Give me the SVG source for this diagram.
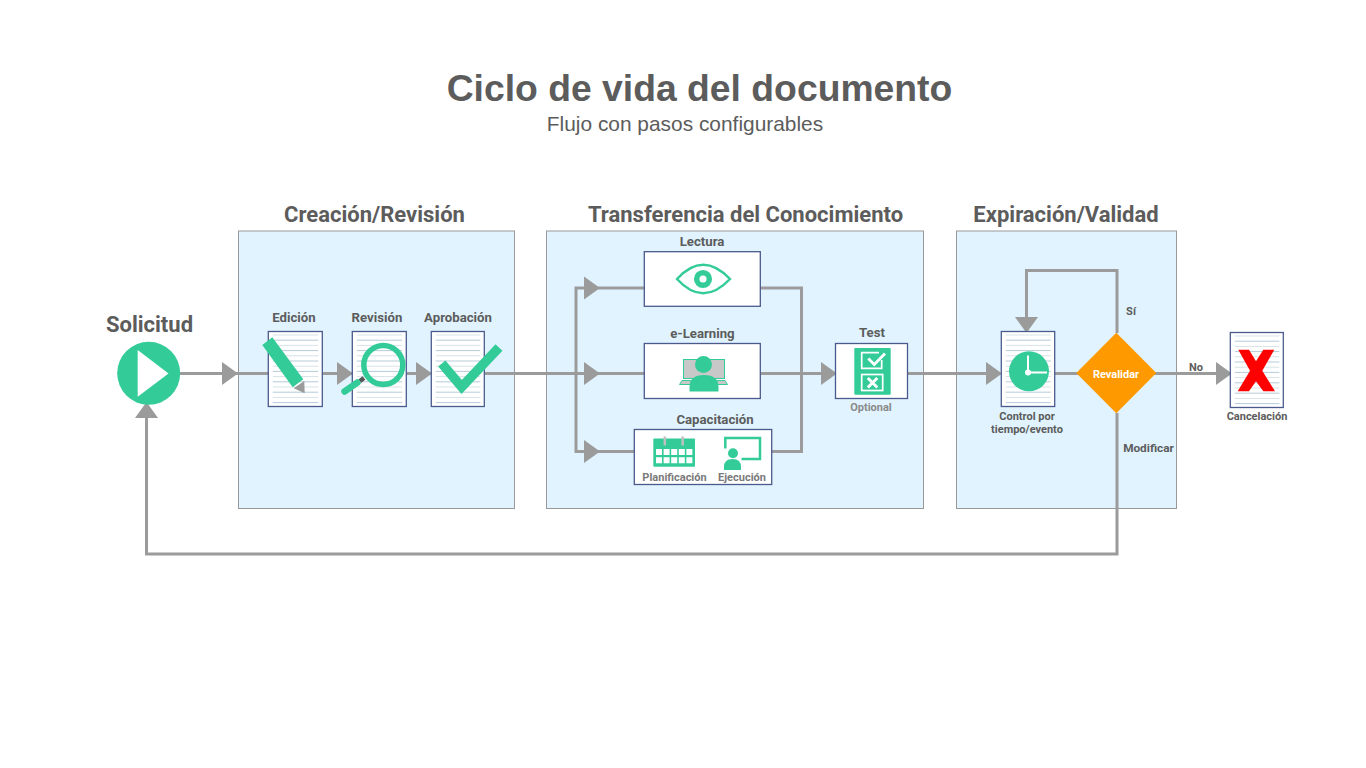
<svg xmlns="http://www.w3.org/2000/svg" width="1366" height="768" viewBox="0 0 1366 768">
<style>
.panel{fill:#e0f3fe;stroke:#999;stroke-width:1}
.box{fill:#fff;stroke:#4a5a8c;stroke-width:1.3}
.conn{fill:none;stroke:#9b9b9b;stroke-width:3}
.head{fill:#9b9b9b}
.g{fill:#33cc99}
.gs{fill:none;stroke:#33cc99}
.r{font-family:Roboto,"Liberation Sans",sans-serif;font-weight:700;fill:#5c5c5c;text-anchor:middle}
.h{font-size:22px}
.m{font-size:13.200px}
.s{font-size:11px}
.li{stroke:#d8e2e6;stroke-width:1}
.lb{stroke:#b4cad9;stroke-width:1}
</style>
<defs>
<symbol id="doc" viewBox="0 0 54 75" preserveAspectRatio="none" overflow="visible">
<rect class="box" x="0" y="0" width="54" height="75"/>
<g><path class="li" d="M4.500 3.500H50M4.500 13.900H50M4.500 24.300H50M4.500 34.700H50M4.500 45.100H50M4.500 55.500H50M4.500 65.900H50"/>
<path class="lb" d="M4.500 8.700H50M4.500 19.100H50M4.500 29.500H50M4.500 39.900H50M4.500 50.300H50M4.500 60.700H50M4.500 71.100H50"/></g>
</symbol>
<polygon id="ar" class="head" points="0,-11.500 16,0 0,11.500"/>
</defs>
<rect width="1366" height="768" fill="#fff"/>
<g id="title">
<text x="699.500" y="100.500" text-anchor="middle" font-family="'Liberation Sans',Arial,sans-serif" font-weight="700" font-size="37.300" fill="#5c5c5c">Ciclo de vida del documento</text>
<text x="685" y="131" text-anchor="middle" font-family="'Liberation Sans',Arial,sans-serif" font-size="20.900" fill="#5c5c5c">Flujo con pasos configurables</text>
</g>
<g id="panel-creacion"><rect class="panel" x="238.500" y="231" width="276" height="277.500"/><text class="r h" x="374.500" y="221.500">Creación/Revisión</text></g>
<g id="panel-transferencia"><rect class="panel" x="546.500" y="231" width="377" height="277.500"/><text class="r h" x="745.500" y="221.500">Transferencia del Conocimiento</text></g>
<g id="panel-expiracion"><rect class="panel" x="956.500" y="231" width="220" height="277.500"/><text class="r h" x="1066" y="221.500">Expiración/Validad</text></g>
<g id="connectors">
<path class="conn" d="M180 373.500H1000"/>
<path class="conn" d="M576 373.500V288H645M576 373.500V451.500H635M760 288H801.500V451.500H771M760 373.500H825"/>
<path class="conn" d="M1055 373.500H1220"/>
<path class="conn" d="M1117 333V270.500H1026.500V320"/>
<path class="conn" d="M1117 413V554H146.500V412"/>
<use href="#ar" x="222" y="373.500"/>
<use href="#ar" x="337" y="373.500"/>
<use href="#ar" x="416" y="373.500"/>
<use href="#ar" x="584" y="288"/>
<use href="#ar" x="584" y="373.500"/>
<use href="#ar" x="584" y="451.500"/>
<use href="#ar" x="821" y="373.500"/>
<use href="#ar" x="986" y="373.500"/>
<use href="#ar" x="1216" y="373.500"/>
<use href="#ar" transform="translate(1026.500 317) rotate(90)"/>
<use href="#ar" transform="translate(146.500 418) rotate(-90)"/>
<text class="r s" x="1131" y="315">Sí</text>
<text class="r s" x="1196" y="370.500">No</text>
<text class="r" style="font-size:11.800px" x="1148.500" y="452.300">Modificar</text>
</g>
<g id="solicitud"><text class="r h" x="149.500" y="331.500">Solicitud</text>
<circle class="g" cx="148.700" cy="373.300" r="31.500"/>
<polygon fill="#fff" points="137.700,350 168.500,373.500 137.700,396.700"/></g>
<g id="edicion"><text class="r m" x="294" y="322.300">Edición</text>
<use href="#doc" x="268.300" y="331.500" width="54" height="75"/>
<polygon class="g" points="262.300,345 272.300,337.300 303.300,379.300 292.700,387.300"/>
<polygon class="head" points="293.700,388.300 304.300,381 304.700,393.300"/></g>
<g id="revision"><text class="r m" x="377" y="322.300">Revisión</text>
<use href="#doc" x="352.300" y="331.500" width="54" height="75"/>
<circle class="gs" cx="383.300" cy="365" r="19.500" stroke-width="5.500"/>
<path class="gs" d="M344.500 391.500L357.500 382.500" stroke-width="6.500" stroke-linecap="round"/>
<path d="M360 381L364 378" stroke="#555" stroke-width="4.500"/></g>
<g id="aprobacion"><text class="r m" x="458" y="322.300">Aprobación</text>
<use href="#doc" x="431.300" y="331.500" width="53" height="75"/>
<polyline class="gs" points="441.800,363.500 461.700,387 499,347.500" stroke-width="9.500"/></g>
<g id="lectura"><text class="r m" x="702" y="246.300">Lectura</text>
<rect class="box" x="644.300" y="251.700" width="116" height="54.600"/>
<path class="gs" stroke-width="2.500" d="M677 279Q703 250.500 730 279Q703 307.500 677 279Z"/>
<circle class="gs" cx="703" cy="279" r="6.300" stroke-width="5.500"/></g>
<g id="elearning"><text class="r m" x="702.500" y="338.300">e-Learning</text>
<rect class="box" x="644.300" y="343.500" width="116" height="55"/>
<rect x="683.500" y="359.500" width="41" height="19" fill="#c8c8c8" stroke="#33cc99"/>
<polygon points="679.500,384.500 682,380.500 725,380.500 727.500,384.500" fill="#c8c8c8" stroke="#33cc99"/>
<circle class="g" cx="703.500" cy="364.500" r="8.500"/>
<path class="g" d="M689.500 391.500V387Q689.500 375 704 375Q718.500 375 718.500 387V391.500Z"/></g>
<g id="capacitacion"><text class="r m" x="715" y="424.300">Capacitación</text>
<rect class="box" x="634.300" y="429.500" width="137.400" height="55"/>
<rect class="g" x="653.300" y="438.500" width="41.700" height="28.300" rx="1"/>
<path d="M664.800 436.500V445.500M682.700 436.500V445.500" stroke="#c0c0c0" stroke-width="2.500" fill="none"/>
<path d="M656 452H692.500M656 460.200H692.500" stroke="#fff" stroke-width="6" stroke-dasharray="6 1.600" fill="none"/>
<text class="r s" x="674.500" y="481" style="fill:#7a7a7a">Planificación</text>
<path class="gs" stroke-width="2.500" d="M725.300 448.500V438H760V459H741.500"/>
<circle class="g" cx="733" cy="453.300" r="5"/>
<path class="g" d="M724 470V467Q724 459 732.500 459Q741 459 741 467V470Z"/>
<text class="r s" x="742" y="481" style="fill:#7a7a7a">Ejecución</text></g>
<g id="test"><text class="r m" x="872" y="337.300">Test</text>
<rect class="box" x="835.500" y="343.500" width="72" height="55"/>
<rect class="g" x="854.300" y="348" width="36.400" height="46.700" rx="1"/>
<path d="M881.700 360V368.300H861.700V352.700H879" fill="none" stroke="#fff" stroke-width="1.700"/>
<path d="M868.300 358.500L874.300 364.500L885 353.500" fill="none" stroke="#fff" stroke-width="2.800"/>
<rect x="861.700" y="374.500" width="21" height="16" fill="none" stroke="#fff" stroke-width="1.700"/>
<path d="M867.800 378L877.300 387.500M877.300 378L867.800 387.500" fill="none" stroke="#fff" stroke-width="3"/>
<text class="r s" x="871" y="411" style="fill:#8a8a8a">Optional</text></g>
<g id="control"><use href="#doc" x="1001.300" y="331.500" width="53.400" height="75"/>
<circle class="g" cx="1029" cy="371.300" r="20"/>
<path d="M1028 355.500V372.500H1047" fill="none" stroke="#fff" stroke-width="2"/>
<circle cx="1028" cy="372.500" r="3" fill="#fff"/>
<text class="r s" x="1027" y="420">Control por</text>
<text class="r s" x="1027" y="433">tiempo/evento</text></g>
<g id="revalidar"><polygon points="1116.300,332.700 1156.300,373 1116.300,413.300 1076.300,373" fill="#f90"/>
<text class="r s" x="1116" y="377.500" style="fill:#fff">Revalidar</text></g>
<g id="cancelacion"><use href="#doc" x="1230.300" y="332.500" width="53" height="75"/>
<polygon fill="#f00" points="1238.300,349.700 1249,349.700 1256,361.300 1263.300,349.700 1274.300,349.700 1262.300,370.700 1275,391.300 1263.300,391.300 1256,381.300 1249,391.300 1237.700,391.300 1250,370.700"/>
<text class="r s" x="1257" y="419.500">Cancelación</text></g>
</svg>
